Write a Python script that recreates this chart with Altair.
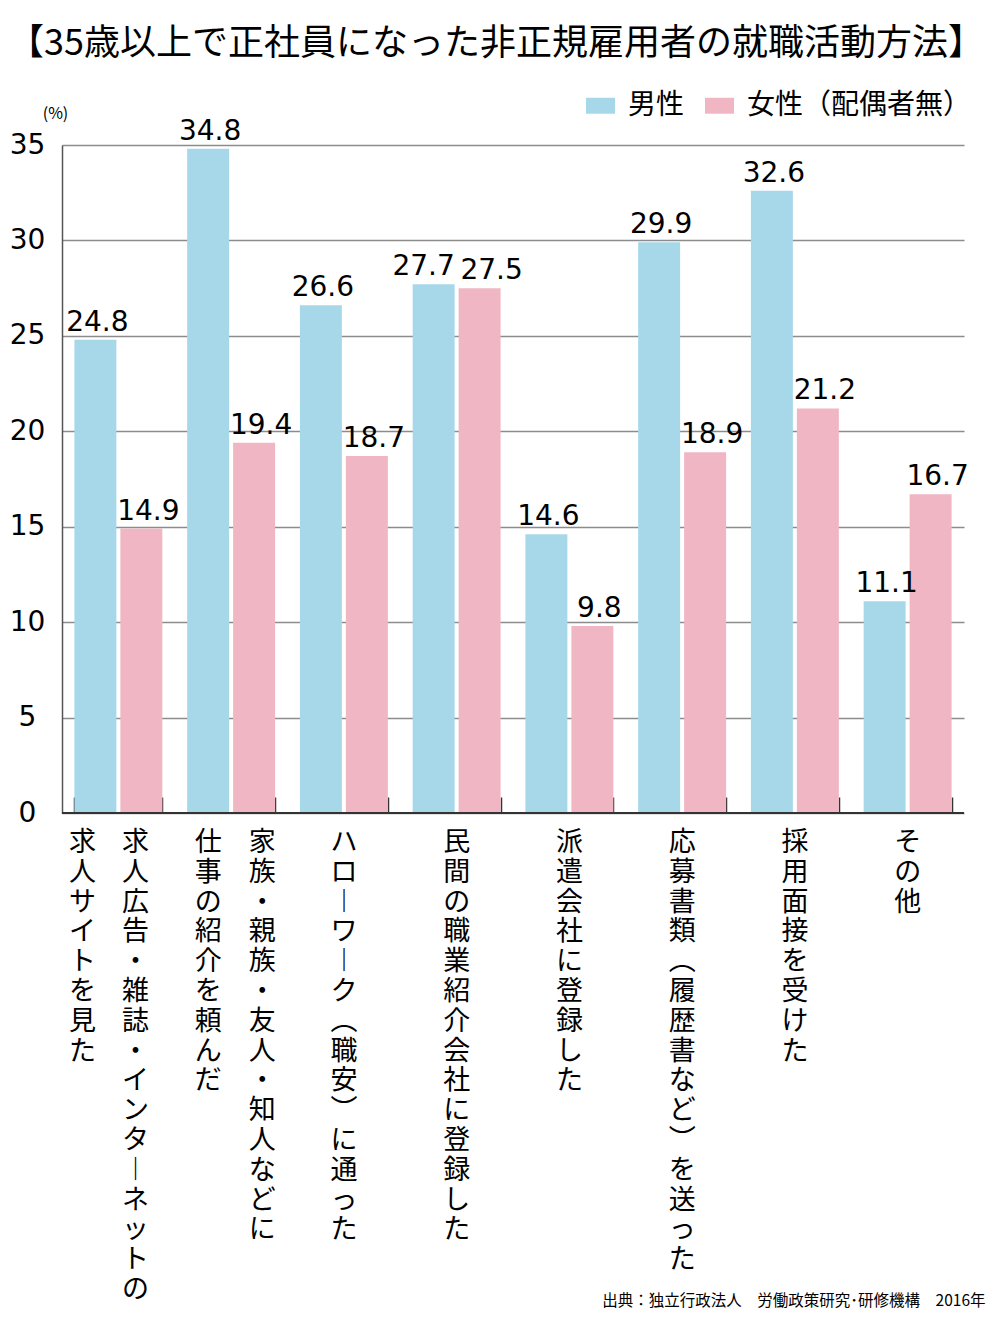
import altair as alt
import pandas as pd

# ---------------- data ----------------
categories = [
    "求人広告・雑誌・インターネットの求人サイトを見た",
    "家族・親族・友人・知人などに仕事の紹介を頼んだ",
    "ハローワーク（職安）に通った",
    "民間の職業紹介会社に登録した",
    "派遣会社に登録した",
    "応募書類（履歴書など）を送った",
    "採用面接を受けた",
    "その他",
]
# vertical label columns (read right-to-left)
label_col1 = [
    "求人広告・雑誌・インターネットの",
    "家族・親族・友人・知人などに",
    "ハローワーク（職安）に通った",
    "民間の職業紹介会社に登録した",
    "派遣会社に登録した",
    "応募書類（履歴書など）を送った",
    "採用面接を受けた",
    "その他",
]
label_col2 = ["求人サイトを見た", "仕事の紹介を頼んだ", "", "", "", "", "", ""]

series = ["男性", "女性（配偶者無）"]
male = [24.8, 34.8, 26.6, 27.7, 14.6, 29.9, 32.6, 11.1]
female = [14.9, 19.4, 18.7, 27.5, 9.8, 18.9, 21.2, 16.7]
colors = ["#a6d8ea", "#f0b6c4"]
y_ticks = [0, 5, 10, 15, 20, 25, 30, 35]

title_text = "【35歳以上で正社員になった非正規雇用者の就職活動方法】"
source_text = "出典：独立行政法人　労働政策研究･研修機構　2016年"

JP = "Noto Sans CJK JP"
NUM = "DejaVu Sans"

# ---------------- tables ----------------
bars_df = pd.DataFrame({
    "cat": categories * 2,
    "sex": [series[0]] * len(categories) + [series[1]] * len(categories),
    "value": male + female,
})

vert_map = {"ー": "︱", "（": "︵", "）": "︶"}


def vertical(s):
    return "\n".join(vert_map.get(c, c) for c in s)


rows = []
for i, cat in enumerate(categories):
    for j, col in enumerate([label_col1[i], label_col2[i]]):
        if col:
            rows.append({"cat": cat, "idx": i, "col": j, "text": vertical(col)})
labels_df = pd.DataFrame(rows)

# ---------------- encodings ----------------
x_enc = alt.X(
    "cat:N", sort=categories,
    scale=alt.Scale(paddingInner=0.22, paddingOuter=0.11),
    axis=alt.Axis(
        labels=False, domain=False, ticks=True, tickBand="extent",
        tickSize=16, tickColor="#333333", tickWidth=1.5, offset=-16, grid=False,
        title=source_text, titleFont=JP, titleFontSize=15.5, titleFontWeight="normal",
        titleColor="black", titleAlign="right", titleBaseline="middle",
        titleAngle=0, titleX=923, titleY=503,
    ),
)
xo_enc = alt.XOffset("sex:N", sort=series, scale=alt.Scale(paddingInner=0.087))
y_enc = alt.Y(
    "value:Q", scale=alt.Scale(domain=[0, 35], nice=False),
    axis=alt.Axis(
        values=y_ticks, labelFont=NUM, labelFontSize=28, labelColor="black",
        labelAlign="center", labelBaseline="middle", labelPadding=35,
        ticks=False, tickSize=0, domainColor="#555555", domainWidth=1.5,
        grid=True, gridColor="#8c8c8c", gridWidth=1.3,
        title="(%)", titleFont=JP, titleFontSize=16, titleFontWeight="normal",
        titleColor="black", titleAngle=0, titleAlign="center", titleBaseline="middle",
        titleX=-7, titleY=-32,
    ),
)

bars = alt.Chart(bars_df).mark_bar().encode(
    x=x_enc,
    xOffset=xo_enc,
    y=y_enc,
    color=alt.Color(
        "sex:N", sort=series,
        scale=alt.Scale(domain=series, range=colors),
        legend=alt.Legend(
            orient="none", legendX=524, legendY=-54, direction="horizontal",
            title=None, symbolType="M-1,-0.55H1V0.55H-1Z", symbolSize=841,
            symbolStrokeWidth=0, symbolOpacity=1,
            labelFont=JP, labelFontSize=28, labelColor="black", labelOffset=13,
            columnPadding=20, labelLimit=400,
        ),
    ),
)

baseline = alt.Chart(pd.DataFrame({"v": [0]})).mark_rule(
    color="#333333", strokeWidth=1.8
).encode(y=alt.Y("v:Q"))

# value labels
val_base = alt.Chart(bars_df).transform_joinaggregate(
    vmax="max(value)", vmin="min(value)", groupby=["cat"]
).transform_calculate(close="datum.vmax - datum.vmin < 1")


def value_layer(sex, close, dx):
    return val_base.transform_filter(
        (alt.datum.sex == sex) & (alt.datum.close == close)
    ).mark_text(
        font=NUM, fontSize=28, color="black", baseline="alphabetic", dy=-9, dx=dx
    ).encode(
        x=alt.X("cat:N", sort=categories),
        xOffset=alt.XOffset("sex:N", sort=series),
        y=alt.Y("value:Q"),
        text=alt.Text("value:Q", format=".1f"),
    )


value_layers = [
    value_layer(series[0], False, 2),
    value_layer(series[0], True, -10),
    value_layer(series[1], False, 7),
    value_layer(series[1], True, 12),
]

# category labels (vertical, stacked characters)
shifts = {(0, 0): 17, (0, 1): -36, (1, 0): 31, (1, 1): -23}


def label_layer(filt, dx):
    return alt.Chart(labels_df).transform_filter(filt).mark_text(
        font=JP, fontSize=27, color="black", baseline="top", align="center",
        lineBreak="\n", lineHeight=29.8, dy=17, dx=dx,
    ).encode(
        x=alt.X("cat:N", sort=categories),
        y=alt.datum(0),
        text="text:N",
    )


label_layers = [
    label_layer((alt.datum.idx == k[0]) & (alt.datum.col == k[1]), v)
    for k, v in shifts.items()
]
label_layers.append(label_layer(alt.datum.idx >= 2, 0))

chart = alt.layer(bars, baseline, *value_layers, *label_layers).properties(
    width=902,
    height=668,
    background="white",
    autosize=alt.AutoSizeParams(type="none"),
    padding={"left": 54, "top": 137, "right": 26, "bottom": 498},
    title=alt.TitleParams(
        text=title_text, anchor="start", frame="group", dx=-54, offset=11,
        font=JP, fontSize=36, fontWeight="normal", color="black", baseline="middle",
    ),
).configure_view(stroke=None)

chart.save("out.html", embed_options={"renderer": "svg", "actions": False})
